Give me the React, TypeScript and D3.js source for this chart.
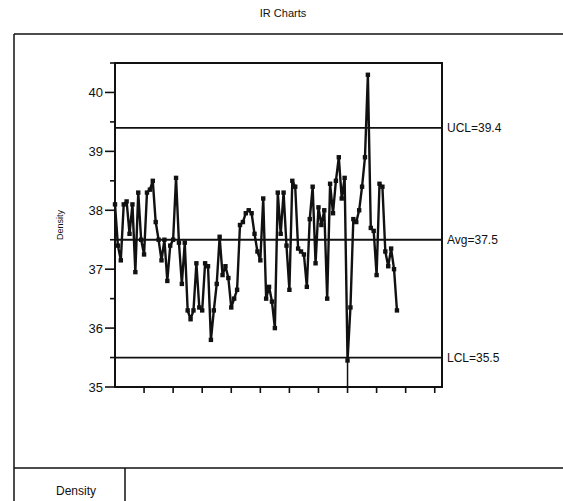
import React from "react";
import * as d3 from "d3";

// individual measurements (sample order)
const density: number[] = [
    38.1, 37.4, 37.15, 38.1, 38.15, 37.6, 38.1, 36.95, 38.3, 37.5,
    37.25, 38.3, 38.35, 38.5, 37.8, 37.5, 37.15, 37.5, 36.8, 37.4,
    37.5, 38.55, 37.45, 36.75, 37.45, 36.3, 36.15, 36.3, 37.1, 36.35,
    36.3, 37.1, 37.05, 35.8, 36.3, 36.75, 37.55, 36.9, 37.05, 36.85,
    36.35, 36.5, 36.65, 37.75, 37.8, 37.95, 38.0, 37.95, 37.6, 37.3,
    37.15, 38.2, 36.5, 36.7, 36.45, 36.0, 38.3, 37.6, 38.3, 37.4,
    36.65, 38.5, 38.4, 37.35, 37.3, 37.25, 36.7, 37.85, 38.4, 37.1,
    38.05, 37.75, 38.0, 36.5, 38.45, 37.95, 38.5, 38.9, 38.2, 38.55,
    35.45, 36.35, 37.85, 37.8, 38.0, 38.4, 38.9, 40.3, 37.7, 37.65,
    36.9, 38.45, 38.4, 37.3, 37.05, 37.35, 37.0, 36.3,
];

const limits = [
    { label: "UCL", value: 39.4 },
    { label: "Avg", value: 37.5 },
    { label: "LCL", value: 35.5 },
];

const yMajorTicks = [35, 36, 37, 38, 39, 40];
const yMinorTicks = [35.5, 36.5, 37.5, 38.5, 39.5, 40.5];
const xTicks = [10, 20, 30, 40, 50, 60, 70, 80, 90, 100, 110];
const markerIndex = 80; // drop line at the low point

const title = "IR Charts";
const yLabel = "Density";
const tableLabel = "Density";

const W = 563;
const H = 501;
const font = "'Liberation Sans', Arial, sans-serif";

const App = (): JSX.Element => {
    const plot = { left: 115, right: 442, top: 63, bottom: 387 };

    const x = d3.scaleLinear().domain([0, 112.5]).range([plot.left, plot.right]);
    const y = d3.scaleLinear().domain([35, 40.5]).range([plot.bottom, plot.top]);

    const line = d3
        .line<number>()
        .x((d, i) => x(i))
        .y((d) => y(d));

    return (
        <svg
            width={W}
            height={H}
            viewBox={`0 0 ${W} ${H}`}
            style={{ position: "absolute", left: 0, top: 0, background: "#fff" }}
            fontFamily={font}
        >
            <rect width={W} height={H} fill="#fff" />

            {/* title */}
            <text x={283} y={17} textAnchor="middle" fontSize={11} fill="#111">
                {title}
            </text>

            {/* outer frame */}
            <g stroke="#111" strokeWidth={1.5} fill="none">
                <line x1={14} y1={34} x2={W} y2={34} />
                <line x1={14} y1={34} x2={14} y2={H} />
                <line x1={14} y1={468} x2={W} y2={468} />
                <line x1={125} y1={468} x2={125} y2={H} />
            </g>
            <text x={76} y={495} textAnchor="middle" fontSize={12} fill="#111">
                {tableLabel}
            </text>

            {/* y axis label */}
            <text
                transform={`translate(63,${(plot.top + plot.bottom) / 2}) rotate(-90)`}
                textAnchor="middle"
                fontSize={9}
                fill="#111"
            >
                {yLabel}
            </text>

            {/* axis ticks */}
            <g stroke="#111" strokeWidth={1.6}>
                {yMajorTicks.map((t) => (
                    <line key={t} x1={plot.left - 10} x2={plot.left} y1={y(t)} y2={y(t)} />
                ))}
                {yMinorTicks.map((t) => (
                    <line key={t} x1={plot.left - 5} x2={plot.left} y1={y(t)} y2={y(t)} />
                ))}
                {xTicks.map((t) => (
                    <line key={t} x1={x(t)} x2={x(t)} y1={plot.bottom} y2={plot.bottom + 6} />
                ))}
            </g>
            {yMajorTicks.map((t) => (
                <text
                    key={t}
                    x={plot.left - 12}
                    y={y(t)}
                    dy="0.35em"
                    textAnchor="end"
                    fontSize={13}
                    fill="#111"
                >
                    {t}
                </text>
            ))}

            {/* plot frame */}
            <rect
                x={plot.left}
                y={plot.top}
                width={plot.right - plot.left}
                height={plot.bottom - plot.top}
                fill="none"
                stroke="#111"
                strokeWidth={2}
            />

            {/* control limits */}
            {limits.map((l) => (
                <g key={l.label}>
                    <line
                        x1={plot.left}
                        x2={plot.right}
                        y1={y(l.value)}
                        y2={y(l.value)}
                        stroke="#111"
                        strokeWidth={1.8}
                    />
                    <text x={plot.right + 5} y={y(l.value)} dy="0.35em" fontSize={12} fill="#111">
                        {`${l.label}=${l.value.toFixed(1)}`}
                    </text>
                </g>
            ))}

            {/* drop line */}
            <line
                x1={x(markerIndex)}
                x2={x(markerIndex)}
                y1={y(density[markerIndex])}
                y2={plot.bottom}
                stroke="#111"
                strokeWidth={1.5}
            />

            {/* data */}
            <path d={line(density) ?? ""} fill="none" stroke="#111" strokeWidth={2.4} strokeLinejoin="round" />
            <g fill="#111">
                {density.map((d, i) => (
                    <rect key={i} x={x(i) - 2.2} y={y(d) - 2.2} width={4.4} height={4.4} />
                ))}
            </g>
        </svg>
    );
};

export default App;
